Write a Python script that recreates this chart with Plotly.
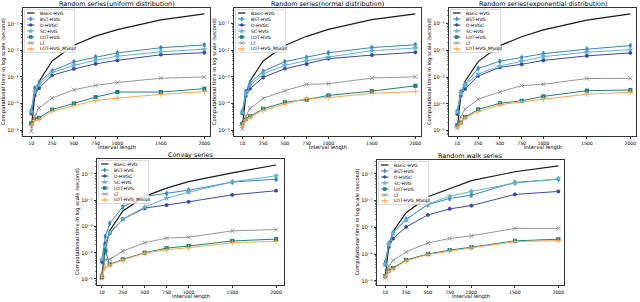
import plotly.graph_objects as go

W, H = 640, 302
FONT = "DejaVu Sans"

# ---------------- data ----------------
interval_len = [10, 50, 100, 250, 500, 750, 1000, 1500, 2000]
x_tick_vals = [10, 250, 500, 750, 1000, 1500, 2000]
y_tick_vals = [1e-5, 1e-4, 1e-3, 1e-2, 1e-1]
y_tick_text = ["10⁻⁵", "10⁻⁴", "10⁻³", "10⁻²", "10⁻¹"]

methods = ["Basic-HVG", "BST-HVG", "D-HVGC", "SC-HVG", "LOT-HVG", "LT", "LOT-HVG_MSopt"]
titles = ["Random series(uniform distribution)", "Random series(normal distribution)",
          "Random series(exponential distribution)", "Convay series", "Random walk series"]
x_label = "Interval length"
y_label = "Computational time in log scale (second)"

# uniform
u_basic = [1.2e-5, 1.9e-4, 6.8e-4, 4.0e-3, 1.55e-2, 3.4e-2, 6.0e-2, 1.4e-1, 2.35e-1]
u_bst = [5.5e-5, 3.8e-4, 6.2e-4, 1.7e-3, 3.7e-3, 5.6e-3, 8.0e-3, 1.25e-2, 1.6e-2]
u_dhvgc = [4.2e-5, 2.0e-4, 3.8e-4, 1.15e-3, 2.0e-3, 3.1e-3, 4.2e-3, 6.8e-3, 8.2e-3]
u_sc = [5.0e-5, 2.8e-4, 5.0e-4, 1.45e-3, 2.7e-3, 4.2e-3, 6.0e-3, 8.8e-3, 1.1e-2]
u_lot = [1.8e-5, 2.6e-5, 2.9e-5, 5.9e-5, 1.0e-4, 1.75e-4, 2.7e-4, 2.7e-4, 3.6e-4]
u_lt = [9.0e-6, 3.3e-5, 6.8e-5, 1.6e-4, 3.3e-4, 4.8e-4, 6.2e-4, 8.9e-4, 1.0e-3]
u_msopt = [1.5e-5, 2.3e-5, 2.5e-5, 5.1e-5, 8.3e-5, 1.3e-4, 1.6e-4, 2.2e-4, 2.8e-4]

# normal
n_basic = [1.2e-5, 2.0e-4, 7.0e-4, 3.9e-3, 1.5e-2, 3.3e-2, 6.0e-2, 1.4e-1, 2.3e-1]
n_bst = [5.0e-5, 2.8e-4, 6.0e-4, 1.6e-3, 3.7e-3, 5.3e-3, 8.0e-3, 1.25e-2, 1.6e-2]
n_dhvgc = [4.2e-5, 1.9e-4, 3.6e-4, 9.5e-4, 2.0e-3, 3.0e-3, 4.8e-3, 6.5e-3, 8.3e-3]
n_sc = [4.5e-5, 2.2e-4, 4.6e-4, 1.3e-3, 2.7e-3, 4.0e-3, 5.5e-3, 9.5e-3, 1.2e-2]
n_lot = [1.7e-5, 2.6e-5, 3.3e-5, 6.3e-5, 1.1e-4, 1.4e-4, 2.0e-4, 2.9e-4, 4.6e-4]
n_lt = [1.1e-5, 3.3e-5, 6.5e-5, 1.55e-4, 3.0e-4, 5.2e-4, 5.5e-4, 9.0e-4, 1.0e-3]
n_msopt = [1.5e-5, 2.4e-5, 3.0e-5, 5.5e-5, 9.5e-5, 1.55e-4, 1.65e-4, 2.4e-4, 2.8e-4]

# exponential
e_basic = [1.2e-5, 2.0e-4, 7.0e-4, 3.8e-3, 1.5e-2, 3.2e-2, 5.8e-2, 1.35e-1, 2.3e-1]
e_bst = [5.5e-5, 2.8e-4, 5.5e-4, 2.1e-3, 3.9e-3, 5.3e-3, 7.5e-3, 1.1e-2, 1.5e-2]
e_dhvgc = [4.2e-5, 2.0e-4, 3.6e-4, 1.1e-3, 2.3e-3, 3.0e-3, 4.2e-3, 6.2e-3, 8.0e-3]
e_sc = [5.0e-5, 2.5e-4, 5.0e-4, 1.3e-3, 2.6e-3, 4.0e-3, 5.8e-3, 8.5e-3, 1.05e-2]
e_lot = [1.6e-5, 2.0e-5, 3.2e-5, 6.2e-5, 1.05e-4, 1.3e-4, 1.9e-4, 3.1e-4, 3.3e-4]
e_lt = [1.3e-5, 3.3e-5, 6.3e-5, 1.5e-4, 2.8e-4, 4.8e-4, 5.4e-4, 8.8e-4, 9.0e-4]
e_msopt = [1.3e-5, 1.9e-5, 3.0e-5, 5.2e-5, 9.2e-5, 1.2e-4, 1.5e-4, 2.3e-4, 2.7e-4]

# Conway
c_basic = [1.4e-5, 1.5e-4, 6.9e-4, 3.9e-3, 1.4e-2, 2.9e-2, 5.1e-2, 1.1e-1, 2.2e-1]
c_bst = [5.0e-5, 4.2e-4, 1.3e-3, 5.6e-3, 1.4e-2, 1.8e-2, 2.4e-2, 4.9e-2, 6.3e-2]
c_dhvgc = [4.5e-5, 2.2e-4, 5.5e-4, 1.9e-3, 5.0e-3, 6.5e-3, 8.7e-3, 1.6e-2, 2.3e-2]
c_sc = [5.5e-5, 1.8e-4, 6.0e-4, 1.9e-3, 5.5e-3, 1.2e-2, 2.0e-2, 5.0e-2, 8.5e-2]
c_lot = [1.15e-5, 1.2e-4, 3.6e-5, 5.6e-5, 1.0e-4, 1.5e-4, 1.8e-4, 2.8e-4, 3.3e-4]
c_lt = [1.3e-5, 5.5e-5, 5.6e-5, 1.15e-4, 2.4e-4, 3.6e-4, 3.9e-4, 6.8e-4, 7.6e-4]
c_msopt = [1.15e-5, 2.8e-5, 3.4e-5, 5.3e-5, 9.5e-5, 1.3e-4, 1.55e-4, 2.4e-4, 2.7e-4]

# Random walk
r_basic = [1.5e-5, 1.9e-4, 7.0e-4, 3.5e-3, 1.4e-2, 2.8e-2, 5.6e-2, 1.2e-1, 2.0e-1]
r_bst = [5.0e-5, 2.5e-4, 6.3e-4, 2.0e-3, 7.1e-3, 1.2e-2, 1.6e-2, 4.8e-2, 6.3e-2]
r_dhvgc = [4.0e-5, 1.8e-4, 3.8e-4, 1.03e-3, 2.9e-3, 4.9e-3, 6.5e-3, 1.7e-2, 2.2e-2]
r_sc = [4.2e-5, 2.3e-4, 6.0e-4, 1.9e-3, 7.5e-3, 1.45e-2, 2.2e-2, 4.5e-2, 6.5e-2]
r_lot = [1.5e-5, 2.4e-5, 3.0e-5, 6.0e-5, 1.0e-4, 1.4e-4, 1.8e-4, 3.1e-4, 3.6e-4]
r_lt = [1.3e-5, 3.5e-5, 5.7e-5, 1.2e-4, 2.6e-4, 3.8e-4, 4.8e-4, 9.1e-4, 9.1e-4]
r_msopt = [1.4e-5, 2.2e-5, 2.8e-5, 5.5e-5, 9.5e-5, 1.3e-4, 1.7e-4, 2.9e-4, 3.2e-4]

panels = [
    [u_basic, u_bst, u_dhvgc, u_sc, u_lot, u_lt, u_msopt],
    [n_basic, n_bst, n_dhvgc, n_sc, n_lot, n_lt, n_msopt],
    [e_basic, e_bst, e_dhvgc, e_sc, e_lot, e_lt, e_msopt],
    [c_basic, c_bst, c_dhvgc, c_sc, c_lot, c_lt, c_msopt],
    [r_basic, r_bst, r_dhvgc, r_sc, r_lot, r_lt, r_msopt],
]

# ---------------- styles / layout geometry ----------------
colors = ["#1a1a1a", "#3a87b9", "#3c4a9c", "#62b0d0", "#1f7f82", "#8a8a8a", "#ffa54f"]
symbols = ["circle", "diamond-tall", "hexagon", "star", "square", "x-thin", "cross-thin"]
msizes = [0, 4.5, 4.2, 5, 4.2, 4.2, 4.2]
lwidths = [1.2, 1.0, 1.0, 1.0, 1.0, 0.9, 1.0]

# frames in pixel coords (left, top, right, bottom)
frames = [(23, 8, 210, 136), (234, 8, 421, 136), (449, 8, 636, 136),
          (97, 159, 284, 285), (377, 160, 564, 285)]
x_ranges = [[-85, 2065], [-85, 2065], [-85, 2065], [-45, 2090], [-85, 2065]]
y_ranges = [[-5.22, -0.41], [-5.22, -0.42], [-5.2, -0.42], [-5.23, -0.43], [-5.16, -0.48]]


def px(x):
    return x / W


def py(y):
    return 1 - y / H


minor_vals = [m * 10.0 ** e for e in range(-6, 0) for m in range(2, 10)]

fig = go.Figure()
layout = dict(width=W, height=H, margin=dict(l=0, r=0, t=0, b=0),
              paper_bgcolor="white", plot_bgcolor="rgba(0,0,0,0)",
              showlegend=False, font=dict(family=FONT, color="black"))
annotations = []
shapes = []

for i, (l, t, r, b) in enumerate(frames):
    s = "" if i == 0 else str(i + 1)
    layout["xaxis" + s] = dict(domain=[px(l), px(r)], anchor="y" + s, range=x_ranges[i],
                               tickvals=x_tick_vals, ticks="outside", ticklen=2.2, tickwidth=0.8,
                               tickcolor="black", tickfont=dict(size=4.6, family=FONT, color="black"),
                               showline=True, linecolor="black", linewidth=0.8, mirror=True,
                               showgrid=False, zeroline=False, fixedrange=True)
    layout["yaxis" + s] = dict(domain=[py(b), py(t)], anchor="x" + s, type="log", range=y_ranges[i],
                               tickvals=y_tick_vals, ticktext=y_tick_text, ticks="outside",
                               ticklen=2.5, tickwidth=0.8, tickcolor="black",
                               tickfont=dict(size=5.2, family=FONT, color="black"),
                               minor=dict(tickvals=minor_vals, ticks="outside", ticklen=1.4,
                                          tickwidth=0.5, tickcolor="black", showgrid=False),
                               showline=True, linecolor="black", linewidth=0.8, mirror=True,
                               showgrid=False, zeroline=False, fixedrange=True)

    for j, name in enumerate(methods):
        vals = panels[i][j]
        tr = dict(x=interval_len, y=vals, mode="lines" if j == 0 else "lines+markers",
                  name=name, xaxis="x" + s, yaxis="y" + s,
                  line=dict(color=colors[j], width=lwidths[j]))
        if j > 0:
            tr["marker"] = dict(symbol=symbols[j], size=msizes[j], color=colors[j],
                                line=dict(color=colors[j], width=0.9 if j >= 5 else 0))
        if j == 1:
            tr["error_y"] = dict(type="percent", value=12, thickness=0.8, width=1.5, color=colors[j])
        fig.add_trace(go.Scatter(**tr))

    # titles & labels
    cx = (l + r) / 2
    annotations.append(dict(text=titles[i], x=px(cx), y=py(t - 4.3), xref="paper", yref="paper",
                            showarrow=False, xanchor="center", yanchor="middle",
                            font=dict(size=6.4, family=FONT, color="#000000")))
    annotations.append(dict(text=x_label, x=px(cx), y=py(b + 11.2), xref="paper", yref="paper",
                            showarrow=False, xanchor="center", yanchor="middle",
                            font=dict(size=5.2, family=FONT, color="#000000")))
    annotations.append(dict(text=y_label, x=px(l - 20), y=py((t + b) / 2), xref="paper", yref="paper",
                            showarrow=False, xanchor="center", yanchor="middle", textangle=-90,
                            font=dict(size=5.2, family=FONT, color="#000000")))

# ---------------- custom legends on an overlay pixel axis ----------------
layout["xaxis6"] = dict(domain=[0, 1], anchor="y6", range=[0, W], visible=False, fixedrange=True)
layout["yaxis6"] = dict(domain=[0, 1], anchor="x6", range=[H, 0], visible=False, fixedrange=True)

for i, (l, t, r, b) in enumerate(frames):
    shapes.append(dict(type="rect", xref="x6", yref="y6", x0=l + 1.5, x1=l + 51.5, y0=t + 1.5,
                       y1=t + 44.5, line=dict(color="#cccccc", width=0.7),
                       fillcolor="rgba(255,255,255,0.85)", layer="below"))
    for j, name in enumerate(methods):
        yy = t + 5.0 + 6.0 * j
        fig.add_trace(go.Scatter(x=[l + 4, l + 11.5], y=[yy, yy], mode="lines", xaxis="x6", yaxis="y6",
                                 line=dict(color=colors[j], width=lwidths[j]), hoverinfo="skip"))
        if j > 0:
            fig.add_trace(go.Scatter(x=[l + 7.75], y=[yy], mode="markers", xaxis="x6", yaxis="y6",
                                     marker=dict(symbol=symbols[j], size=msizes[j] * 0.85, color=colors[j],
                                                 line=dict(color=colors[j], width=0.8 if j >= 5 else 0)),
                                     hoverinfo="skip"))
        annotations.append(dict(text=name, x=l + 14.5, y=yy, xref="x6", yref="y6", showarrow=False,
                                xanchor="left", yanchor="middle",
                                font=dict(size=4.5, family=FONT, color="#000000")))

layout["annotations"] = annotations
layout["shapes"] = shapes
fig.update_layout(**layout)
fig.write_html("out.html", config={"displayModeBar": False, "staticPlot": True},
               post_script="document.body.style.margin='0';document.body.style.padding='0';")
